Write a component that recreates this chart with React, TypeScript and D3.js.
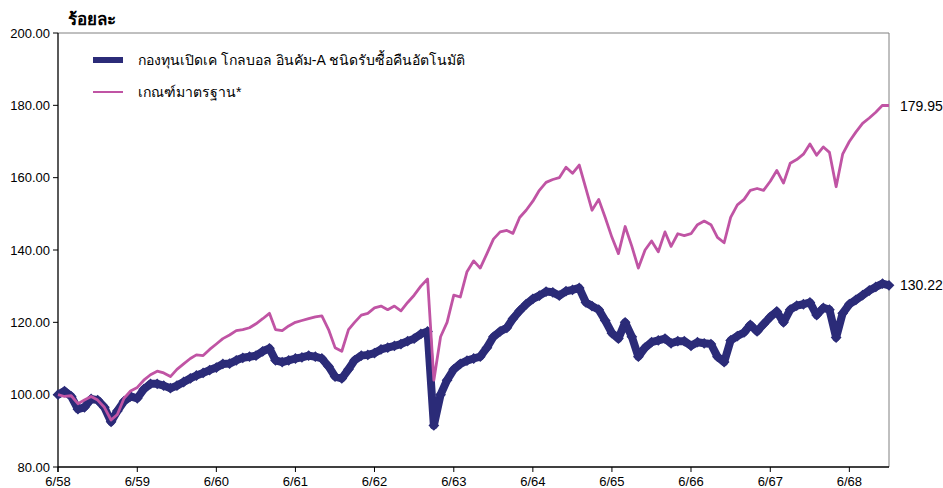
import React from 'react';
import * as d3 from 'd3';

// monthly values, starting end of June 2015 (6/58)
const fundValues = [
  100, 101, 99.5, 96, 96.5, 98.8, 98.5, 96.5, 92.5, 95.5, 98.2, 99.5,
  99, 101.5, 103, 103, 102.5, 101.8, 102.5, 103.5, 104.5, 105.3, 106, 106.8,
  107.5, 108.5, 108.6, 109.5, 110.2, 110.5, 110.8, 112, 112.8, 109.5, 109, 109.5,
  110, 110.3, 110.8, 110.5, 110, 107.8, 105, 104.5, 107, 109.5, 110.8, 111,
  111.5, 112.5, 113, 113.5, 114, 114.8, 115.5, 116.8, 117.5, 91.5, 100, 104,
  107, 108.5, 109.4, 110, 110.5, 113, 116, 117.5, 118.5, 121, 123.2, 125,
  126.5, 127.4, 128.5, 128.3, 127.4, 128.6, 129, 129.5, 125.5, 124.5, 123.5, 120.5,
  117, 115.5, 120, 116, 110.5, 113, 114.5, 115, 115.5, 114.2, 114.8, 114.8,
  113.5, 114.5, 114.2, 114, 110.5, 109, 115, 116.2, 117.2, 119.3, 117.5, 119.5,
  121.5, 123, 120, 123.5, 124.6, 125, 125.5, 122, 124, 123.5, 115.8, 122.5,
  125, 126.2, 127.5, 128.8, 129.8, 130.7, 130.22,
];

const benchValues = [
  100, 99.5, 99.7, 97.5, 98.5, 99.5, 98.5, 96.5, 93, 94.5, 99, 101,
  102, 104, 105.5, 106.5, 106, 105, 107, 108.5, 110, 111, 110.8, 112.5,
  114, 115.5, 116.5, 117.7, 118, 118.5, 119.6, 121, 122.5, 118, 117.7, 119,
  120, 120.5, 121, 121.5, 121.8, 118, 113, 112, 118, 120, 122, 122.5,
  124, 124.5, 123.5, 124.5, 123.2, 125.5, 127.5, 130, 132, 104, 116, 120,
  127.5, 127, 134, 137, 135, 139, 143, 145, 145.4, 144.6, 149, 151,
  153.5, 156.5, 158.7, 159.5, 160, 162.9, 161.2, 163.5, 157, 151, 154, 149,
  143.5, 139, 146.5, 141, 135, 140, 142.5, 139.5, 145, 141, 144.5, 144,
  144.5, 147, 148, 147, 143.5, 142, 149, 152.5, 154, 156.5, 157, 156.5,
  159, 162, 158.5, 164, 165, 166.5, 169.3, 166.2, 168.5, 167, 157.5, 166.5,
  170, 172.6, 175, 176.5, 178.1, 180, 179.95,
];

const tickLabels = ['6/58', '6/59', '6/60', '6/61', '6/62', '6/63', '6/64', '6/65', '6/66', '6/67', '6/68'];
const yTicks = [80, 100, 120, 140, 160, 180, 200];

const fundName = 'กองทุนเปิดเค โกลบอล อินคัม-A ชนิดรับซื้อคืนอัตโนมัติ';
const benchName = 'เกณฑ์มาตรฐาน*';

const navy = '#2b2b78';
const pink = '#c054a4';
const font = '"Liberation Sans", Arial, sans-serif';

export default function App() {
  const width = 943;
  const height = 488;
  const left = 58, right = 889, top = 33, bottom = 467;

  const start = new Date(2015, 5, 30);
  const dates = fundValues.map((_, i) => d3.timeMonth.offset(start, i));
  const tickDates = tickLabels.map((_, i) => d3.timeMonth.offset(start, i * 12));

  const x = d3.scaleTime().domain([dates[0], dates[dates.length - 1]]).range([left, right]);
  const y = d3.scaleLinear().domain([80, 200]).range([bottom, top]);

  const line = d3.line<number>()
    .x((_, i) => x(dates[i]))
    .y((d) => y(d));

  const diamond = d3.symbol().type(d3.symbolSquare).size(58)();

  const lastFund = fundValues[fundValues.length - 1];
  const lastBench = benchValues[benchValues.length - 1];

  return (
    <svg width={width} height={height} style={{ position: 'absolute', left: 0, top: 0, background: '#fff' }} fontFamily={font}>
      <text x={68} y={25} fontSize={17} fontWeight="bold" fill="#000">ร้อยละ</text>

      {/* frame */}
      <line x1={left} x2={right} y1={top} y2={top} stroke="#808080" strokeWidth={1} />
      <line x1={right} x2={right} y1={top} y2={bottom} stroke="#808080" strokeWidth={1} />
      <line x1={left} x2={left} y1={top} y2={bottom + 5} stroke="#000" strokeWidth={1.3} />
      <line x1={left} x2={right} y1={bottom} y2={bottom} stroke="#000" strokeWidth={1.3} />

      {yTicks.map((t) => (
        <g key={t}>
          <line x1={left - 5} x2={left} y1={y(t)} y2={y(t)} stroke="#000" />
          <text x={50} y={y(t) + 4.5} fontSize={13} textAnchor="end" fill="#000">{t.toFixed(2)}</text>
        </g>
      ))}

      {tickDates.map((d, i) => (
        <g key={tickLabels[i]}>
          <line x1={x(d)} x2={x(d)} y1={bottom} y2={bottom + 5} stroke="#000" />
          <text x={x(d)} y={486} fontSize={13} textAnchor="middle" fill="#000">{tickLabels[i]}</text>
        </g>
      ))}

      {/* fund */}
      <path d={line(fundValues) ?? ''} fill="none" stroke={navy} strokeWidth={8} strokeLinejoin="round" />
      {fundValues.map((v, i) => (
        <path key={i} d={diamond ?? ''} fill={navy}
          transform={`translate(${x(dates[i])},${y(v)}) rotate(45)`} />
      ))}

      {/* benchmark */}
      <path d={line(benchValues) ?? ''} fill="none" stroke={pink} strokeWidth={2.8} strokeLinejoin="round" />

      <text x={900} y={y(lastBench) + 5} fontSize={14} fill="#000">{lastBench.toFixed(2)}</text>
      <text x={900} y={y(lastFund) + 5} fontSize={14} fill="#000">{lastFund.toFixed(2)}</text>

      {/* legend */}
      <line x1={93} x2={123} y1={60} y2={60} stroke={navy} strokeWidth={6} />
      <path d={d3.symbol().type(d3.symbolSquare).size(14)() ?? ''} fill={navy} transform="translate(108,60) rotate(45)" />
      <text x={138} y={65} fontSize={14} fill="#000">{fundName}</text>
      <line x1={93} x2={123} y1={92} y2={92} stroke={pink} strokeWidth={2} />
      <text x={138} y={97} fontSize={14} fill="#000">{benchName}</text>
    </svg>
  );
}
